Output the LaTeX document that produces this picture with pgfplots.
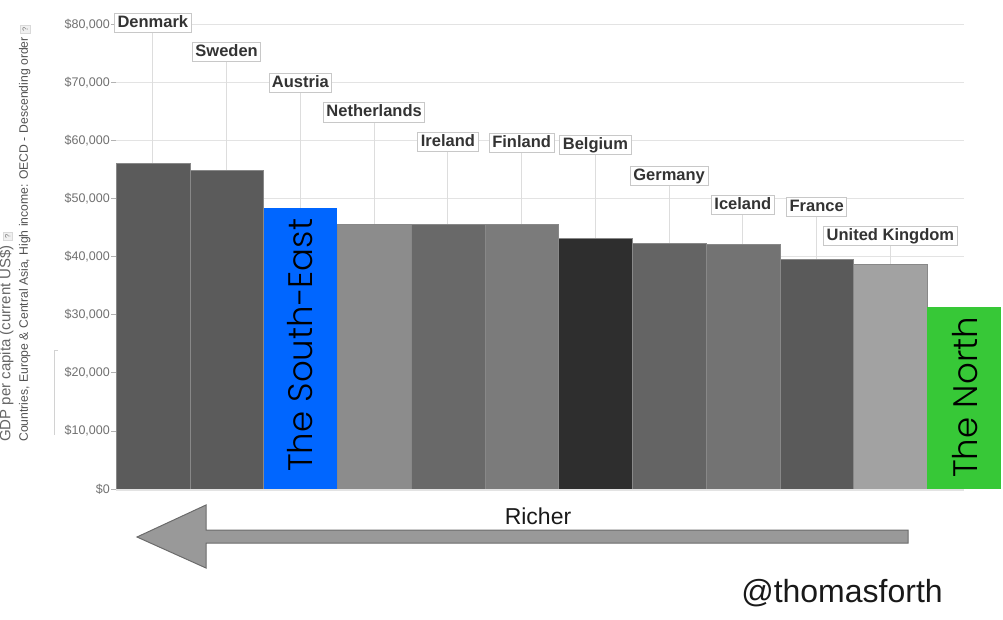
\documentclass[border=0pt]{standalone}
\usepackage{fontspec}
\setmainfont{Liberation Sans}
\newfontfamily\thinfont{Poppins Light}
\usepackage{pgfplots}
\pgfplotsset{compat=1.18}

\definecolor{gridc}{HTML}{E3E3E3}
\definecolor{tickt}{HTML}{707070}
\definecolor{labt}{HTML}{333333}
\definecolor{labb}{HTML}{C8C8C8}
\definecolor{leadc}{HTML}{DDDDDD}
\definecolor{barline}{HTML}{888888}
\definecolor{cDK}{HTML}{5B5B5B}
\definecolor{cSE}{HTML}{0066FF}
\definecolor{cNL}{HTML}{8C8C8C}
\definecolor{cIE}{HTML}{696969}
\definecolor{cFI}{HTML}{7B7B7B}
\definecolor{cBE}{HTML}{2E2E2E}
\definecolor{cDE}{HTML}{646464}
\definecolor{cIS}{HTML}{737373}
\definecolor{cFR}{HTML}{5A5A5A}
\definecolor{cUK}{HTML}{A2A2A2}
\definecolor{cNO}{HTML}{37C837}
\definecolor{arrf}{HTML}{999999}
\definecolor{arrd}{HTML}{6B6B6B}

\newcommand\qbox{{\setlength\fboxsep{1.8pt}\setlength\fboxrule{0.6pt}%
  \fcolorbox{black!15}{black!6}{\color{black!55}\fontsize{7.5}{8}\selectfont ?}}}

\begin{document}
\begin{tikzpicture}[x=1pt,y=1pt,
  lab/.style={draw=labb, fill=white, line width=0.8pt, text=labt,
    font=\bfseries\fontsize{16.5}{18}\selectfont,
    inner xsep=3pt, inner ysep=2pt, text height=12pt, text depth=3.5pt},
  leader/.style={draw=leadc, line width=1pt},
  mybar/.style={ybar, bar width=1, draw=barline, line width=0.5pt}]
\useasboundingbox (0,0) rectangle (1003,619);

% y title, two lines, the first one cut by the left edge
\node[rotate=90, anchor=base west, inner sep=0pt, text=black!60,
  font=\fontsize{15}{16}\selectfont] at (10.5,177)
  {GDP per capita (current US\$)\;\qbox};
\node[rotate=90, anchor=base west, inner sep=0pt, text=black!68,
  font=\fontsize{12.2}{13}\selectfont] at (28,177)
  {Countries, Europe \& Central Asia, High income: OECD - Descending order\;\qbox};
\draw[gray!35, line width=0.8pt] (58,269) -- (54,269) -- (54,184);

\begin{axis}[
  at={(116pt,130pt)}, anchor=south west,
  scale only axis, width=885pt, height=464.8pt,
  xmin=-0.5, xmax=11.5, ymin=0, ymax=80000,
  clip=false,
  axis line style={draw=none},
  xtick=\empty,
  ytick={0,10000,20000,30000,40000,50000,60000,70000,80000},
  ytick pos=left, tick align=outside, major tick length=5pt,
  ytick style={draw=gray!60, line width=0.8pt},
  scaled y ticks=false,
  yticklabel style={font=\fontsize{12.5}{14}\selectfont, text=tickt, inner sep=1pt},
  yticklabel={\$\pgfmathprintnumber{\tick}},
  /pgf/number format/fixed,
  /pgf/number format/precision=0,
  /pgf/number format/1000 sep={,},
  /pgf/number format/assume math mode=true,
]
% grid lines
\pgfplotsinvokeforeach{10000,20000,30000,40000,50000,60000,70000,80000}{
  \draw[gridc, line width=1pt] (axis cs:-0.5,#1) -- (axis cs:11,#1);
}
% leader lines from the labels down to the bars
\draw[leader] (axis cs:0,80200) -- (axis cs:0,56060);
\draw[leader] (axis cs:1,75200) -- (axis cs:1,54780);
\draw[leader] (axis cs:2,69900) -- (axis cs:2,48310);
\draw[leader] (axis cs:3,64800) -- (axis cs:3,45610);
\draw[leader] (axis cs:4,59700) -- (axis cs:4,45650);
\draw[leader] (axis cs:5,59550) -- (axis cs:5,45490);
\draw[leader] (axis cs:6,59200) -- (axis cs:6,43080);
\draw[leader] (axis cs:7,53870) -- (axis cs:7,42290);
\draw[leader] (axis cs:8,48880) -- (axis cs:8,42120);
\draw[leader] (axis cs:9,48540) -- (axis cs:9,39540);
\draw[leader] (axis cs:10,43550) -- (axis cs:10,38610);

% bars
\addplot[mybar, fill=cDK] coordinates {(0,56060)};
\addplot[mybar, fill=cDK] coordinates {(1,54780)};
\addplot[mybar, fill=cSE, draw=none] coordinates {(2,48310)};
\addplot[mybar, fill=cNL] coordinates {(3,45610)};
\addplot[mybar, fill=cIE] coordinates {(4,45650)};
\addplot[mybar, fill=cFI] coordinates {(5,45490)};
\addplot[mybar, fill=cBE] coordinates {(6,43080)};
\addplot[mybar, fill=cDE] coordinates {(7,42290)};
\addplot[mybar, fill=cIS] coordinates {(8,42120)};
\addplot[mybar, fill=cFR] coordinates {(9,39540)};
\addplot[mybar, fill=cUK] coordinates {(10,38610)};
\addplot[mybar, fill=cNO, draw=none] coordinates {(11,31410)};

\draw[gridc, line width=1.5pt] ([yshift=-0.8pt]axis cs:-0.5,0) -- ([yshift=-0.8pt]axis cs:11,0);

% country labels
\node[lab] at (axis cs:0,80200) {Denmark};
\node[lab] at (axis cs:1,75200) {Sweden};
\node[lab] at (axis cs:2,69900) {Austria};
\node[lab] at (axis cs:3,64800) {Netherlands};
\node[lab] at (axis cs:4,59700) {Ireland};
\node[lab] at (axis cs:5,59550) {Finland};
\node[lab] at (axis cs:6,59200) {Belgium};
\node[lab] at (axis cs:7,53870) {Germany};
\node[lab] at (axis cs:8,48880) {Iceland};
\node[lab] at (axis cs:9,48540) {France};
\node[lab] at (axis cs:10,43550) {United Kingdom};

% region names on the coloured bars
\node[rotate=90, anchor=base west, inner sep=0pt,
  font=\thinfont\fontsize{34}{36}\selectfont] at ([xshift=12pt]axis cs:2,2900) {The South-East};
\node[rotate=90, anchor=base west, inner sep=0pt,
  font=\thinfont\fontsize{34}{36}\selectfont] at ([xshift=13pt]axis cs:11,1900) {The North};
\end{axis}

% arrow
\draw[fill=arrf, draw=arrd, line width=1pt]
  (908,89) -- (206,89) -- (206,114) -- (137,82) -- (206,51) -- (206,76) -- (908,76) -- cycle;
\node[font=\fontsize{23}{26}\selectfont, text=black!90] at (538,103) {Richer};
\node[font=\fontsize{32}{34}\selectfont, text=black!90] at (842,26) {@thomasforth};
\end{tikzpicture}
\end{document}
